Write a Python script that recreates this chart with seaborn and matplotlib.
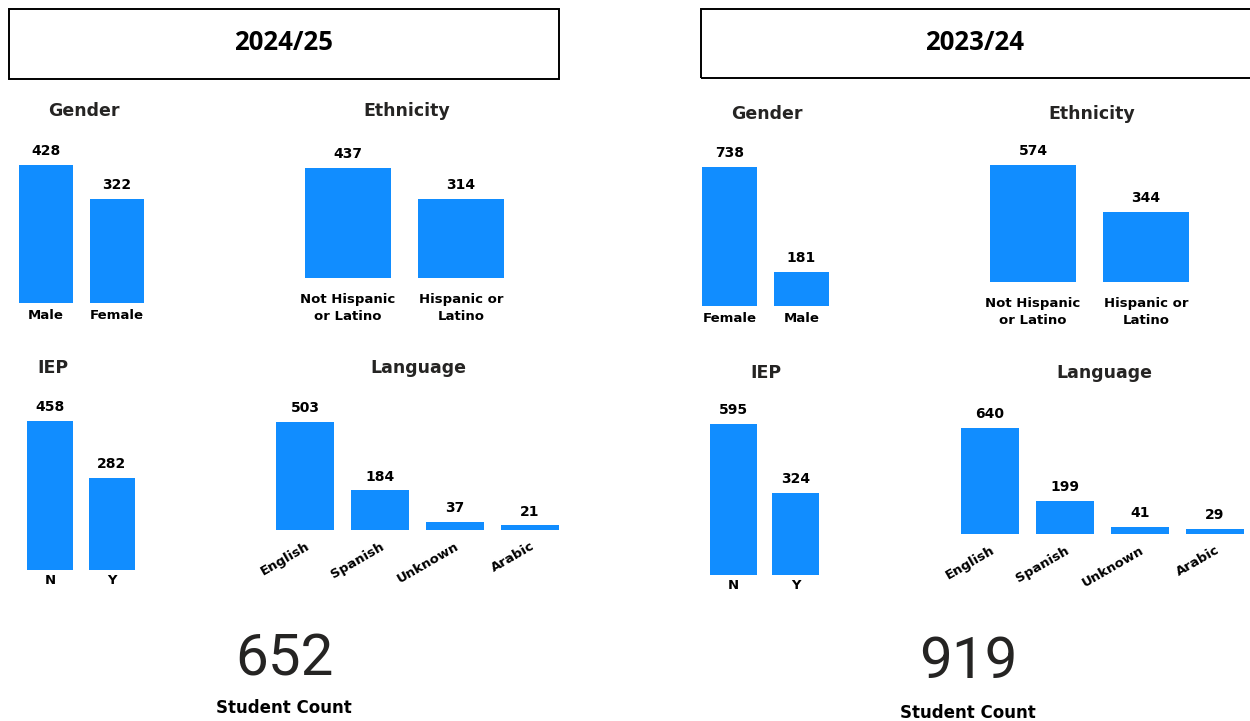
import matplotlib
matplotlib.use("Agg")
import matplotlib.pyplot as plt
import seaborn as sns
from matplotlib.patches import Rectangle

sns.set_theme(style="white")
plt.rcParams['font.family'] = ['DejaVu Sans']

# ---------------- data ----------------
years = ["2024/25", "2023/24"]

gender_cats_2425 = ["Male", "Female"]
gender_vals_2425 = [428, 322]
eth_cats_2425 = ["Not Hispanic\nor Latino", "Hispanic or\nLatino"]
eth_vals_2425 = [437, 314]
iep_cats_2425 = ["N", "Y"]
iep_vals_2425 = [458, 282]
lang_cats_2425 = ["English", "Spanish", "Unknown", "Arabic"]
lang_vals_2425 = [503, 184, 37, 21]
student_count_2425 = 652

gender_cats_2324 = ["Female", "Male"]
gender_vals_2324 = [738, 181]
eth_cats_2324 = ["Not Hispanic\nor Latino", "Hispanic or\nLatino"]
eth_vals_2324 = [574, 344]
iep_cats_2324 = ["N", "Y"]
iep_vals_2324 = [595, 324]
lang_cats_2324 = ["English", "Spanish", "Unknown", "Arabic"]
lang_vals_2324 = [640, 199, 41, 29]
student_count_2324 = 919

BLUE = "#118DFF"
TITLE_C = "#252423"
W, H = 1250, 721

fig = plt.figure(figsize=(W / 100, H / 100), dpi=100)


def fx(x):
    return x / W


def fy(y):
    return 1 - y / H


def panel(cats, vals, left, bottom, spacing, scale, frac, title, tpos,
          pad, rot=0):
    n = len(cats)
    width_px = n * spacing
    height_px = max(vals) * scale
    ax = fig.add_axes([fx(left), fy(bottom), width_px / W, height_px / H])
    sns.barplot(x=cats, y=vals, color=BLUE, saturation=1, width=frac,
                ax=ax, linewidth=0)
    ax.set_xlim(-0.5, n - 0.5)
    ax.set_ylim(0, max(vals))
    ax.set_xlabel("")
    ax.set_ylabel("")
    ax.set_yticks([])
    for s in ax.spines.values():
        s.set_visible(False)
    ax.set_facecolor("none")
    ax.tick_params(axis="x", length=0, pad=pad)
    ax.set_xticks(range(n))
    if rot:
        ax.set_xticklabels(cats, rotation=rot, ha="right",
                           rotation_mode="anchor", fontsize=9.5,
                           fontweight="bold", color="black")
    else:
        ax.set_xticklabels(cats, fontsize=9.5, fontweight="bold",
                           color="black", linespacing=1.35)
    for c in ax.containers:
        ax.bar_label(c, labels=[str(v) for v in vals], padding=5,
                     fontsize=10, fontweight="bold", color="black",
                     clip_on=False)
    fig.text(fx(tpos[0]), fy(tpos[1]), title, ha="center", va="center",
             fontsize=12.5, fontweight="bold", color=TITLE_C)
    return ax


# ---------- 2024/25 ----------
panel(gender_cats_2425, gender_vals_2425, 10.5, 303, 71, 0.3224, 0.76,
      "Gender", (84, 111), pad=4)
panel(eth_cats_2425, eth_vals_2425, 291.5, 278, 113, 0.2517, 0.76,
      "Ethnicity", (407, 111), pad=11)
panel(iep_cats_2425, iep_vals_2425, 19, 570, 62, 0.3253, 0.74,
      "IEP", (53, 368), pad=3)
panel(lang_cats_2425, lang_vals_2425, 267.5, 530, 75, 0.2147, 0.77,
      "Language", (418, 368), pad=7, rot=30)

# ---------- 2023/24 ----------
panel(gender_cats_2324, gender_vals_2324, 693.5, 306, 72, 0.1883, 0.76,
      "Gender", (767, 114), pad=4)
panel(eth_cats_2324, eth_vals_2324, 976.5, 282, 113, 0.2038, 0.76,
      "Ethnicity", (1092, 114), pad=11)
panel(iep_cats_2324, iep_vals_2324, 702.5, 575, 62, 0.2538, 0.76,
      "IEP", (766, 373), pad=3)
panel(lang_cats_2324, lang_vals_2324, 952.5, 534, 75, 0.1656, 0.77,
      "Language", (1104, 373), pad=7, rot=30)

# ---------- header boxes ----------
for (x0, x1, y0, y1, yr, cx) in [(9, 559, 9, 79, years[0], 284),
                                   (701, 1254, 9, 78, years[1], 975)]:
    fig.patches.append(Rectangle((fx(x0), fy(y1)), (x1 - x0) / W,
                                 (y1 - y0) / H, transform=fig.transFigure,
                                 fill=False, edgecolor="black", linewidth=1.4))
    fig.text(fx(cx), fy((y0 + y1) / 2 - 1), yr, ha="center", va="center",
             fontsize=18.5, fontweight="bold", family=["Open Sans", "DejaVu Sans"],
             color="black")

# ---------- student counts ----------
for (cnt, cx, ny, ly) in [(student_count_2425, 284, 660, 708),
                          (student_count_2324, 968, 663, 713)]:
    fig.text(fx(cx), fy(ny), str(cnt), ha="center", va="center",
             fontsize=42, fontweight="normal", family=["Roboto", "DejaVu Sans"],
             color="#252423")
    fig.text(fx(cx), fy(ly), "Student Count", ha="center", va="center",
             fontsize=12, fontweight="bold", color="black")

fig.savefig("out.png", dpi=100, facecolor="white")
